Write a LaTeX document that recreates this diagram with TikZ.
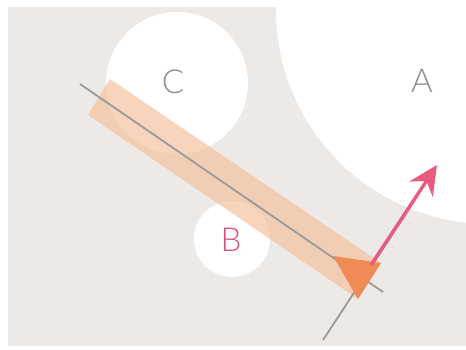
\documentclass[tikz,border=0pt]{standalone}
\usepackage{fontspec}
\setmainfont{Lato Light}
\usetikzlibrary{arrows.meta}
\definecolor{bg}{HTML}{ECE9E7}
\definecolor{band}{HTML}{F4BE98}
\definecolor{tri}{HTML}{F08B58}
\definecolor{pinkc}{HTML}{E85A80}
\definecolor{linec}{HTML}{9A9A9A}
\definecolor{labc}{HTML}{8C8C8C}
\definecolor{labb}{HTML}{D9517F}
\tikzset{
  disc/.style={fill=white, draw=none},
  lab/.style={font=\fontsize{33}{33}\selectfont, inner sep=0pt},
  guide/.style={draw=linec, line width=1.8pt},
}
\begin{document}
\begin{tikzpicture}[x=1pt, y=-1pt]
\useasboundingbox (0,0) rectangle (466,349);
\fill[white] (0,0) rectangle (466,349);
\fill[bg] (8,7) rectangle (466,346);
\begin{scope}
\clip (8,7) rectangle (466,346);
\fill[white] (490,10) circle[radius=214];
\end{scope}
\fill[white] (177,83) circle[radius=71];
\fill[white] (232,239) circle[radius=38];
\node[lab, text=labc] (A) at (422,81) {A};
\node[lab, text=labc] (C) at (173,82) {C};
\node[lab, text=labb] (B) at (231,240) {B};
\fill[band, opacity=0.65] (110,79) -- (381,263) -- (358,299) -- (88,115) -- cycle;
\coordinate (l1) at (80,84);
\coordinate (l2) at (383,292);
\draw[guide] (l1) -- (l2);
\coordinate (p1) at (323,340);
\coordinate (p2) at (411,206);
\draw[guide] (p1) -- (p2);
\fill[tri] (333,256) -- (381,263) -- (358,299) -- cycle;
\coordinate (a1) at (371,265);
\coordinate (a2) at (437,165);
\draw[pinkc, line width=3.4pt, -{Stealth[length=29pt,width=28pt,inset=10pt]}] (a1) -- (a2);
\end{tikzpicture}
\end{document}
